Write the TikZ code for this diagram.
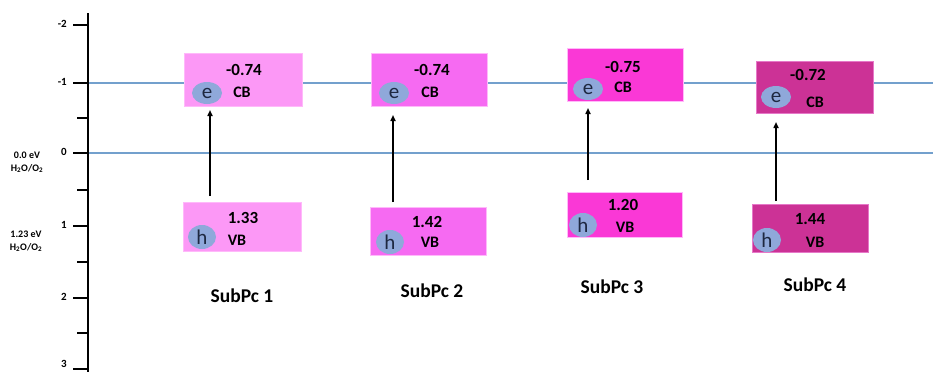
\documentclass[tikz,border=0pt]{standalone}
\usepackage{fontspec}
\setmainfont{Carlito}
\usetikzlibrary{shapes.geometric,arrows.meta}
\definecolor{bandA}{RGB}{252,152,246}
\definecolor{bandB}{RGB}{246,106,242}
\definecolor{bandC}{RGB}{250,56,214}
\definecolor{bandD}{RGB}{204,50,150}
\definecolor{edgeA}{RGB}{255,185,250}
\definecolor{edgeD}{RGB}{230,120,200}
\definecolor{carrier}{RGB}{143,168,218}
\definecolor{carriertext}{RGB}{30,40,65}
\definecolor{levelline}{RGB}{115,160,205}
\begin{document}
\begin{tikzpicture}[x=1pt,y=-1pt,
  bandbox/.style={draw=edgeA,line width=0.8pt,inner sep=0pt},
  bandnum/.style={font=\bfseries\fontsize{17}{17}\selectfont,inner sep=0pt,text=black},
  bandlbl/.style={font=\bfseries\fontsize{16}{16}\selectfont,inner sep=0pt,text=black},
  carrierdot/.style={ellipse,fill=carrier,minimum width=30pt,minimum height=22pt,inner sep=0pt,
    text=carriertext,font=\fontsize{21}{21}\selectfont},
  excite/.style={-{Triangle[length=6pt,width=5pt]},line width=1.6pt},
  tickmaj/.style={line width=1.6pt},
  axislbl/.style={font=\bfseries\fontsize{11}{11}\selectfont,inner sep=0pt},
  sidelbl/.style={font=\bfseries\fontsize{10}{11}\selectfont,inner sep=0pt,align=center},
  sample/.style={font=\bfseries\fontsize{19.5}{19.5}\selectfont,inner sep=0pt}]
\useasboundingbox (0,0) rectangle (933,372);
\fill[white] (0,0) rectangle (933,372);

% reference levels
\coordinate (lvlA0) at (88,83);  \coordinate (lvlA1) at (933,83);
\coordinate (lvlB0) at (88,153); \coordinate (lvlB1) at (933,153);
\draw[levelline,line width=1.1pt] (lvlA0) -- (lvlA1);
\draw[levelline,line width=1.1pt] (lvlB0) -- (lvlB1);

% energy axis
\coordinate (axtop) at (88,13);
\coordinate (axbot) at (88,372);
\draw[line width=2.6pt] (axtop) -- (axbot);
\foreach \yy/\lab/\ly in {25/-2/24,83/-1/82,153/0/152,226/1/225,298/2/297,369/3/364}{
  \draw[tickmaj] (73,\yy) -- (88,\yy);
  \node[axislbl,anchor=east] (tick\lab) at (67,\ly) {\lab};
}
\foreach \yy in {118,190,262,333}{
  \draw[tickmaj] (77,\yy) -- (88,\yy);
}
\node[sidelbl] (potA) at (27,162) {0.0 eV\\[2pt]H\textsubscript{2}O/O\textsubscript{2}};
\node[sidelbl] (potB) at (26,241) {1.23 eV\\[2pt]H\textsubscript{2}O/O\textsubscript{2}};

% SubPc 1
\node[bandbox,fill=bandA,minimum width=118pt,minimum height=53pt] (cb1) at (243,79.5) {};
\node[bandbox,fill=bandA,minimum width=118pt,minimum height=49pt] (vb1) at (242,226.5) {};
\node[bandnum] (cbv1) at (244,70) {-0.74};
\node[bandlbl] (cbl1) at (242,92) {CB};
\node[bandnum] (vbv1) at (243,218) {1.33};
\node[bandlbl] (vbl1) at (237,240) {VB};
\node[carrierdot] (e1) at (207,93) {e};
\node[carrierdot,minimum width=28pt,minimum height=24pt] (h1) at (202,237) {h};
\coordinate (s1) at (210,196); \coordinate (t1) at (210,110);
\draw[excite] (s1) -- (t1);
\node[sample] (name1) at (242,296) {SubPc 1};

% SubPc 2
\node[bandbox,fill=bandB,minimum width=116pt,minimum height=53pt] (cb2) at (429,79.5) {};
\node[bandbox,fill=bandB,minimum width=116pt,minimum height=48pt] (vb2) at (428,231) {};
\node[bandnum] (cbv2) at (432,70) {-0.74};
\node[bandlbl] (cbl2) at (430,92) {CB};
\node[bandnum] (vbv2) at (427,222) {1.42};
\node[bandlbl] (vbl2) at (430,242) {VB};
\node[carrierdot] (e2) at (394,93) {e};
\node[carrierdot,minimum width=28pt,minimum height=24pt] (h2) at (390,242) {h};
\coordinate (s2) at (393,202); \coordinate (t2) at (393,115);
\draw[excite] (s2) -- (t2);
\node[sample] (name2) at (432,291) {SubPc 2};

% SubPc 3
\node[bandbox,fill=bandC,minimum width=116pt,minimum height=53pt] (cb3) at (625,74.5) {};
\node[bandbox,fill=bandC,minimum width=115pt,minimum height=45pt] (vb3) at (624.5,214.5) {};
\node[bandnum] (cbv3) at (623,67) {-0.75};
\node[bandlbl] (cbl3) at (623,87) {CB};
\node[bandnum] (vbv3) at (623,205) {1.20};
\node[bandlbl] (vbl3) at (625,227) {VB};
\node[carrierdot] (e3) at (588,89) {e};
\node[carrierdot,minimum width=28pt,minimum height=24pt] (h3) at (583,225) {h};
\coordinate (s3) at (588,180); \coordinate (t3) at (588,108);
\draw[excite] (s3) -- (t3);
\node[sample] (name3) at (612,287) {SubPc 3};

% SubPc 4
\node[bandbox,draw=edgeD,fill=bandD,minimum width=117pt,minimum height=52pt] (cb4) at (814.5,87) {};
\node[bandbox,draw=edgeD,fill=bandD,minimum width=116pt,minimum height=48pt] (vb4) at (810,228) {};
\node[bandnum] (cbv4) at (808,75) {-0.72};
\node[bandlbl] (cbl4) at (815,102) {CB};
\node[bandnum] (vbv4) at (810,219) {1.44};
\node[bandlbl] (vbl4) at (815,242) {VB};
\node[carrierdot] (e4) at (776,97) {e};
\node[carrierdot,minimum width=28pt,minimum height=24pt] (h4) at (767,240) {h};
\coordinate (s4) at (776,201); \coordinate (t4) at (776,122);
\draw[excite] (s4) -- (t4);
\node[sample] (name4) at (815,285) {SubPc 4};
\end{tikzpicture}
\end{document}
